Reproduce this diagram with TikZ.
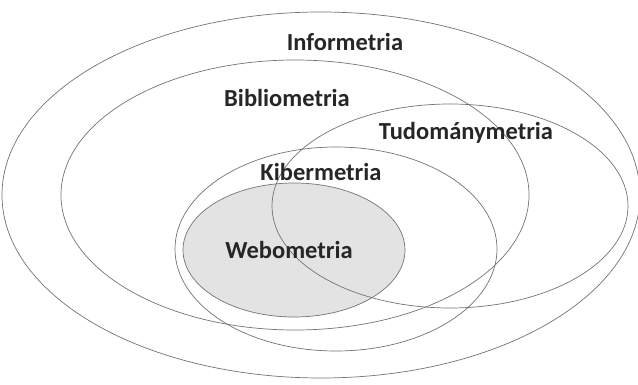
\documentclass[tikz,border=0pt]{standalone}
\usepackage{fontspec}
\setmainfont{Carlito}
\begin{document}
\begin{tikzpicture}[x=1pt,y=-1pt,
    ring/.style={draw=black!55, line width=0.7pt},
    label/.style={font=\fontsize{24.5}{28}\selectfont\bfseries, text=black!85, inner sep=0pt}]
            \useasboundingbox (0,0) rectangle (638,385);

            % Shaded inner set
            \fill[black!11] (294,250) ellipse [x radius=111, y radius=67];

            % Draw the set outlines
            \draw[ring] (321,195) ellipse [x radius=319, y radius=183]; % Informetria
            \draw[ring] (295,195) ellipse [x radius=234, y radius=135]; % Bibliometria
            \draw[ring] (450,206) ellipse [x radius=178, y radius=102]; % Tudomanymetria
            \draw[ring] (336,249) ellipse [x radius=161, y radius=102]; % Kibermetria
            \draw[ring] (294,250) ellipse [x radius=111, y radius=67];  % Webometria

            % Set names
            \node[label] (info) at (345,42) {Informetria};
            \node[label] (biblio) at (287,98) {Bibliometria};
            \node[label] (tudo) at (466,133) {Tudománymetria};
            \node[label] (kiber) at (321,172) {Kibermetria};
            \node[label] (webo) at (289,250) {Webometria};

        \end{tikzpicture}
\end{document}
